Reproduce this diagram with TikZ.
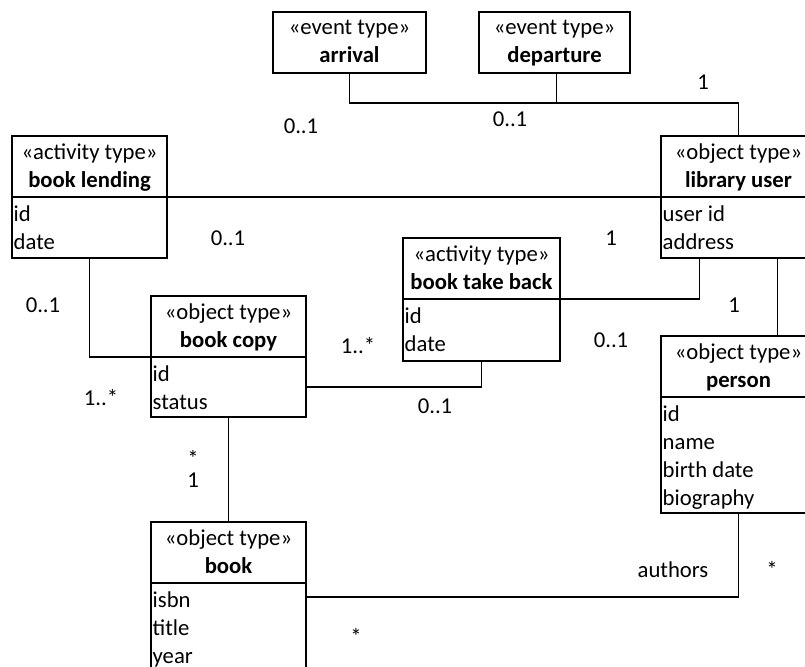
\documentclass[tikz,border=0pt]{standalone}
\usepackage{fontspec}
\setmainfont{Carlito}
\tikzset{
  umlframe/.style={draw, line width=1.7pt, outer sep=0pt, inner sep=0pt},
  umltext/.style={inner sep=0pt, font=\fontsize{22.7}{28}\selectfont},
  lbl/.style={umltext, anchor=base},
  conn/.style={line width=1.2pt}
}
\newcommand\umlbox[8]{%
  \node[umlframe, anchor=north west, minimum width=#4, minimum height=61] (#1) at (#2,#3) {};
  \node[umltext, anchor=base] (#1-s) at ([yshift=-23pt]#1.north) {«#6»};
  \node[umltext, anchor=base] (#1-t) at ([yshift=-51pt]#1.north) {\bfseries #7};
  \ifnum#5>0
    \node[umlframe, anchor=north west, minimum width=#4, minimum height=#5] (#1-a) at (#1.south west) {};
    \foreach \a [count=\i] in {#8} {%
      \node[umltext, anchor=base west] (#1-\i) at ([xshift=1.5pt, yshift={-24-28*(\i-1)}]#1-a.north west) {\a};
    }
  \fi
}
\begin{document}
\begin{tikzpicture}[x=1pt, y=-1pt]
\useasboundingbox (0,0) rectangle (805,666);
\fill[white] (0,0) rectangle (805,666);

\umlbox{arr}{273}{12}{153}{0}{event type}{arrival}{}
\umlbox{dep}{479}{12}{151}{0}{event type}{departure}{}
\umlbox{bl}{12}{136}{155}{61}{activity type}{book lending}{id,date}
\umlbox{lu}{661}{136}{155}{61}{object type}{library user}{user id,address}
\umlbox{btb}{403}{238}{157}{62}{activity type}{book take back}{id,date}
\umlbox{bc}{151}{296}{155}{60}{object type}{book copy}{id,status}
\umlbox{per}{661}{336}{155}{116}{object type}{person}{id,name,birth date,biography}
\umlbox{bk}{151}{522}{155}{120}{object type}{book}{isbn,title,year}

% connectors
\draw[conn] (arr.south) -- ++(0,30) coordinate (j1) -| (lu.north);
\draw[conn] ([xshift=2pt]dep.south) -- ([xshift=2pt]dep.south |- j1);
\draw[conn] (bl.south east) -- (lu.south west);
\draw[conn] (bl-a.south) |- (bc.south west);
\draw[conn] (btb.south east) -| ([xshift=-39pt]lu-a.south);
\draw[conn] (btb-a.south) |- (bc-a.east);
\draw[conn] ([xshift=39pt]lu-a.south) -- ([xshift=39pt]per.north);
\draw[conn] (bc-a.south) -- (bk.north);
\draw[conn] (per-a.south) |- ([yshift=-14pt]bk-a.north east);

% multiplicities
\node[lbl] (m1) at (301,133) {0..1};
\node[lbl] (m2) at (510,127) {0..1};
\node[lbl] (m3) at (703,90) {1};
\node[lbl] (m4) at (228,245) {0..1};
\node[lbl] (m5) at (611,245) {1};
\node[lbl] (m6) at (43,312) {0..1};
\node[lbl] (m7) at (101,405) {1..*};
\node[lbl] (m8) at (358,353) {1..*};
\node[lbl] (m9) at (611,347) {0..1};
\node[lbl] (m10) at (734,312) {1};
\node[lbl] (m11) at (435,413) {0..1};
\node[lbl] (m12) at (193,466) {*};
\node[lbl] (m13) at (193,487) {1};
\node[lbl] (m14) at (673,577) {authors};
\node[lbl] (m15) at (772,577) {*};
\node[lbl] (m16) at (356,644) {*};
\end{tikzpicture}
\end{document}
